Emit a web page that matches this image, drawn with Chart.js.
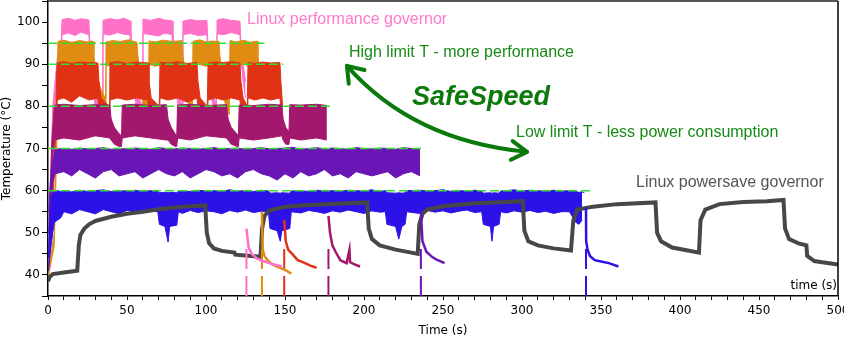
<!DOCTYPE html>
<html><head><meta charset="utf-8">
<script src="https://cdn.jsdelivr.net/npm/chart.js@4/dist/chart.umd.min.js"></script>
<style>html,body{margin:0;padding:0;background:#fff}</style>
</head><body>
<canvas id="c" width="844" height="339" style="width:844px;height:339px;display:block"></canvas>
<script>
// ---------- DATA (time in s, temperature in °C) ----------
const xTickLabels = [0, 50, 100, 150, 200, 250, 300, 350, 400, 450, 500];
const yTickLabels = [40, 50, 60, 70, 80, 90, 100];

// Linux performance governor (pink)
const pinkT  = [0.5,3,6,8.4, 8.9,13,17,21,25.9, 26.5,28,30,34.3, 34.8,39,44,48,51.9, 52.5,54,56,59.6, 60.1,65,70,74,78.5, 79.1,80.5,82.5,84.9, 85.4,90,95,100.6, 101.2,102.6,104.5,106.5, 107,111,116,121.5, 122.1,123.5,125];
const pinkHi = [50,80,92,96, 100.6,100.9,100.4,100.8,100.5, 95,88,84,80, 100.4,100.8,100.5,100.9,100.3, 95,88,84,80, 100.7,100.4,100.9,100.5,100.3, 95,88,84,80, 100.2,100.6,100.3,100.4, 95,88,84,80, 100.5,100.8,100.4,100.2, 95,90,86];
const pinkLo = [45,75,88,93, 97,97.4,96.8,97.6,97, 91,84,80,77, 97.2,96.9,97.5,97.1,97, 91,84,80,77, 97.3,97,96.7,97.4,97, 91,84,80,77, 97,97.3,96.8,97, 91,84,80,77, 97.2,97,97.5,97, 91,86,82];

// SafeSpeed limit 95 (orange)
const orangeT  = [0.5,2.5,4,5.5, 6.3,10,15,20,25,28.5, 29.1,30.5,33.5,36.2, 36.7,41,46,51,56.3, 56.9,58.3,61,63.4, 63.9,68,73,79,84.8, 85.4,86.8,89.5,91.3, 91.8,96,100,104,108.2, 108.8,110.2,112.8,114.7, 115.2,119,124,128,132.3, 132.9,134];
const orangeHi = [42,46,50,80, 95.4,95.7,95.2,95.6,95.3,95.5, 92,88,84,82, 95.3,95.6,95.4,95.8,95.2, 92,88,84,82, 95.5,95.3,95.7,95.4,95.6, 92,88,84,82, 95.4,95.8,95.3,95.5,95.4, 92,88,84,82, 95.6,95.3,95.7,95.2,95.5, 92,88];
const orangeLo = [40,44,47,70, 89.5,90,89.5,90,89.5,90, 87,83,80,78, 89.5,90,89.5,90,89.5, 87,83,80,78, 90,89.5,90,89.5,90, 87,83,80,78, 89.5,90,89.5,90,89.5, 87,83,80,78, 90,89.5,90,89.5,90, 87,84];

// SafeSpeed limit 90 (red)
const redT  = [0.5,3,5, 5.7,10,15,20,26,31.6, 32.2,33.6,38.7, 39.2,44,50,56,63.3, 63.9,65.3,70.4, 70.9,76,82,88,94.3, 94.9,96.3,100.8, 101.3,106,111,116,121.5, 122.1,123.5,126.1, 126.6,131,136,141,146.8, 147.4,148.5];
const redHi = [45,60,80, 90.3,90.6,90.2,90.5,90.4,90.3, 86,82,80, 90.4,90.6,90.2,90.5,90.3, 86,82,80, 90.5,90.3,90.6,90.2,90.4, 86,82,80, 90.3,90.5,90.4,90.6,90.3, 86,82,80, 90.4,90.2,90.5,90.3,90.4, 86,80];
const redLo = [42,55,75, 81.5,82,81,82.5,81.5,82, 79,77,76, 81.5,82,81.5,82,81.5, 79,77,76, 82,81.5,82,81,82, 79,77,76, 81.5,82,81.5,82,81.5, 79,77,76, 82,81.5,82,81.5,82, 79,75];

// SafeSpeed limit 80 (magenta)
const magT  = [0.5,2.5,4, 10,20,30,39, 40,42,45,46.5, 47,55,65,75, 76,78,80.5,81.5, 82,90,100,113, 114,116,119.5,120.5, 121,130,140,148, 148.8,150.5,152.5, 153,160,170,176.5];
const magHi = [50,72,80.3, 80.5,80.2,80.4,80.3, 77,75,73.5,73, 80.3,80.5,80.2,80.4, 77,75,73.5,73, 80.3,80.5,80.2,80.4, 77,75,73.5,73, 80.3,80.2,80.5,80.3, 77,75,74, 80.4,80.3,80.5,80.2];
const magLo = [45,66,72, 72.5,72,73,72.5, 72,71,70.5,70.5, 72.5,73,72.5,72, 72,71,70.5,70.5, 72.5,72,73,72.5, 72,71,70.5,70.5, 72.5,72,72.5,73, 72,71,71, 72.5,72,72.5,72];

// SafeSpeed limit 70 (purple)
const purpleT  = [0.5,1.5,3,4.5, 10,15,20,25,30,35,40,45,50,55,60,65,70,75,80,85,90,95,100,105,110,115,120,125,130,135,140,145,150,155,160,165,170,175,180,185,190,195,200,205,210,215,220,225,230,235.5];
const purpleHi = [55,62,67,69.8, 70,69.8,70.1,69.9,70,70.2,69.8,70,69.9,70.1,70,69.8,70.2,70,69.9,70.1,70,69.8,70,70.2,69.9,70,70.1,69.8,70,70.2,69.9,70,70.1,70.3,69.8,70,70.2,69.9,70.1,70,69.8,70.2,70,69.9,70.1,70,69.8,70.2,70,69.9];
const purpleLo = [50,56,62,64, 64.5,63.5,65,64,63,64.5,65,63.5,64,64.5,63,64,65,64,63.5,64.5,63,64,65,64.5,63.5,64,63,64.5,65,64,63.5,62.5,64,63,64.5,63.5,64,65,63.5,64,63,64.5,64,63.5,64,64.5,63,64,64.5,63.5];

// SafeSpeed limit 60 (blue)
const blueT  = [0.3,1,2,3,4,6,8,10,15,20,25,30,35,40,45,50,55,60,65,69.5,70.5,74,76,77,81.5,82.5,85,90,95,100,105,110,115,120,125,130,135,139.5,140.5,145,147,148,153,154,160,165,170,175,180,185,190,195,200,205,210,213.5,214.5,220,222,224,226,227,235,240,245,250,255,260,265,270,274.5,275.5,280,281,282,285.5,286.5,290,295,300,305,310,315,320,325,330,334,336,338,339.5];
const blueHi = [44,52,58,59.5,59.8,60,59.8,60,59.7,60.1,59.8,60,60.2,59.8,60,59.9,60.1,59.8,60,59.9,59.5,59.6,59.5,59.6,59.5,59.9,60,59.8,60.1,59.9,60,59.8,60.2,59.9,60,59.8,60.1,59.9,59.4,59.5,59.4,59.5,59.4,59.9,60,59.8,60.1,59.9,60,59.8,60.1,60,59.9,60.2,59.8,60,59.5,59.4,59.5,59.4,59.5,60,60.1,59.9,60,60.2,59.8,60,59.9,60.1,59.9,59.4,59.5,59.4,59.5,59.4,59.9,60,60.2,59.9,60.1,60,59.8,60.1,59.9,60,59.8,59.6,59.7,59.5];
const blueLo = [41,44,47,50,52.5,53,53.5,55,54.5,55.5,55,54.5,55.5,55,54.5,55.3,55,54.7,55.2,55,52,51.5,47.8,51.5,51.8,55,54.6,55.3,54.8,55.2,55,54.5,55.3,54.9,55.4,54.8,55.1,55,51,50.5,48,50.5,51,55,54.7,55.3,55,54.6,55.2,54.9,55.4,55,54.6,55.2,54.9,55,52,51.5,48.5,51.5,52,55,54.6,55.3,54.9,55.2,54.7,55.1,55.4,54.8,55,52,51.5,48,51.5,52,55,54.7,55.2,54.9,55.3,54.8,55.1,54.6,55,55,52.5,52,53];

// Linux powersave governor (grey)
const greyT = [0,1,3,10,18.5,19.5,20.5,23,26,30,40,50,60,70,80,90,99.5,100.5,102,105,110,118,118.5,125,134.5,135.5,137,140,150,160,175,190,202,203,205,210,220,230,234,235,237,240,250,270,290,300.5,301.5,304,310,320,331,332.5,335,345,360,384.5,385.5,388,395,405,412,413,416,425,440,455,465.5,466.5,469,475,480,480.5,485,490,500];
const greyV = [38.5,39.5,40.2,40.6,41,47,49.5,51,52,52.8,53.8,54.5,55,55.6,56,56.3,56.5,50,47.5,46.3,45.7,45.3,44.8,44.6,44.3,51,54,55.3,56.2,56.5,56.8,57,57.2,51,48.5,47,46,45.3,45,52,54.5,55.5,56.3,57,57.3,57.5,50.5,48,47,46.3,45.8,53,55.5,56.2,56.8,57.2,50,48,46.5,45.8,45.3,53,55.5,56.8,57.3,57.5,57.8,51,48.5,47.5,47,44.5,43.3,43,42.5];

// Cool-down tails after each SafeSpeed / performance run ends
const pinkTailT   = [125.6,127,129,132,136,142,148];
const pinkTailV   = [51,46.5,45,44,43.3,42.6,42];
const orangeTailT = [135.4,135.9,137,139,142,146,150,154];
const orangeTailV = [55,46,44.5,43.5,42.5,41.8,41.2,40.3];
const redTailT    = [149.5,150.5,152,155,158,162,166,170];
const redTailV    = [53,48,46,44.8,43.5,42.9,42.2,41.7];
const magTailT    = [177.5,178.5,180,182,185,189,190.8,191.2,194,197.5];
const magTailV    = [54,50,47,45.5,43.5,42.8,46,43,42.5,42];
const purpleTailT = [236,237,239.5,243,246,251];
const purpleTailV = [55,48,45.5,44.3,43.6,42.8];
const blueTailT   = [340.5,340.6,341.5,343,346,350,355,361];
const blueTailV   = [56,48,46,44.5,43.5,43.2,42.8,42];

// end-of-run markers (time) and limit lines
const markerTimes  = [125.6, 135.4, 149.5, 177.5, 236, 340.5];
const limitLevels  = [95, 90, 80, 70, 60];
const limitEnds    = [137, 149, 180, 238, 343];

// ---------- COLOURS ----------
const C = {pink:'#ff70c8', orange:'#e08c12', red:'#e03214', mag:'#a2186e', purple:'#6a16b6', blue:'#2c12e6', grey:'#474747', green:'#33dd33'};

function pts(T, V){ return T.map((t,i)=>({x:t, y:V[i]})); }
const base = {pointRadius:0, pointHoverRadius:0, tension:0, spanGaps:true};
function band(name, T, hi, lo, col, order){
  return [
    Object.assign({}, base, {label:name+' max', data:pts(T,hi), borderColor:col, backgroundColor:col, borderWidth:1, fill:false, order}),
    Object.assign({}, base, {label:name+' min', data:pts(T,lo), borderColor:col, backgroundColor:col, borderWidth:1, fill:'-1', order})
  ];
}
function line(name, T, V, col, w, order, dash){
  return Object.assign({}, base, {label:name, data:pts(T,V), borderColor:col, backgroundColor:col, borderWidth:w, fill:false, order, borderDash:dash||[]});
}

const datasets = [];
datasets.push(...band('performance', pinkT, pinkHi, pinkLo, C.pink, 9));
datasets.push(...band('95', orangeT, orangeHi, orangeLo, C.orange, 8));
datasets.push(...band('90', redT, redHi, redLo, C.red, 7));
datasets.push(...band('80', magT, magHi, magLo, C.mag, 6));
datasets.push(...band('70', purpleT, purpleHi, purpleLo, C.purple, 5));
datasets.push(...band('60', blueT, blueHi, blueLo, C.blue, 4));
datasets.push(line('powersave', greyT, greyV, C.grey, 4, 3));
const tails = [[pinkTailT,pinkTailV,C.pink],[orangeTailT,orangeTailV,C.orange],[redTailT,redTailV,C.red],[magTailT,magTailV,C.mag],[purpleTailT,purpleTailV,C.purple],[blueTailT,blueTailV,C.blue]];
tails.forEach((tl,i)=>{
  datasets.push(line('tail'+i, tl[0], tl[1], tl[2], 2.5, 2));
  datasets.push(line('marker'+i, [markerTimes[i], markerTimes[i]], [35, 46.5], tl[2], 2, 2, [20,7]));
});
limitLevels.forEach((lv,i)=>{
  datasets.push(line('limit'+lv, [0, limitEnds[i]], [lv, lv], C.green, 1.5, 0, [9,4]));
});

// ---------- ANNOTATIONS ----------
const notes = [
  {text:'Linux performance governor', x:126, y:100.7, color:'#ff77cc', font:'16px "Liberation Sans", Arial, sans-serif'},
  {text:'High limit T - more performance', x:190.5, y:92.7, color:'#178a17', font:'16px "Liberation Sans", Arial, sans-serif'},
  {text:'SafeSpeed', x:230.4, y:82.0, color:'#0b7a0b', font:'italic bold 27px "Liberation Sans", Arial, sans-serif'},
  {text:'Low limit T - less power consumption', x:296.2, y:73.7, color:'#178a17', font:'16px "Liberation Sans", Arial, sans-serif'},
  {text:'Linux powersave governor', x:372.2, y:62.0, color:'#555555', font:'16px "Liberation Sans", Arial, sans-serif'}
];
const arrowPts = {p0:[189.2, 89.6], p1:[231, 71.8], p2:[303.2, 69.2]};

const annot = {
  id:'annot',
  afterDatasetsDraw(chart){
    const {ctx, chartArea:a, scales:{x, y}} = chart;
    ctx.save();
    ctx.strokeStyle = '#555'; ctx.lineWidth = 2;
    ctx.beginPath(); ctx.moveTo(a.left, a.top); ctx.lineTo(a.right, a.top); ctx.stroke();
    ctx.strokeStyle = '#000'; ctx.lineWidth = 1.5;
    ctx.beginPath(); ctx.moveTo(a.right, a.top); ctx.lineTo(a.right, a.bottom); ctx.stroke();
    ctx.textBaseline = 'middle'; ctx.textAlign = 'left';
    notes.forEach(n=>{ ctx.font = n.font; ctx.fillStyle = n.color; ctx.fillText(n.text, x.getPixelForValue(n.x), y.getPixelForValue(n.y)); });
    ctx.font = '12px "DejaVu Sans", sans-serif'; ctx.fillStyle = '#000'; ctx.textAlign = 'right';
    ctx.fillText('time (s)', x.getPixelForValue(499.4), y.getPixelForValue(37.4));
    const P = k => [x.getPixelForValue(arrowPts[k][0]), y.getPixelForValue(arrowPts[k][1])];
    const p0 = P('p0'), p1 = P('p1'), p2 = P('p2');
    ctx.strokeStyle = '#0b7a0b'; ctx.lineWidth = 4; ctx.lineCap = 'round'; ctx.lineJoin = 'round';
    ctx.beginPath(); ctx.moveTo(p0[0], p0[1]); ctx.quadraticCurveTo(p1[0], p1[1], p2[0], p2[1]); ctx.stroke();
    function head(tip, from, spread, len){
      const ang = Math.atan2(from[1]-tip[1], from[0]-tip[0]);
      ctx.beginPath();
      ctx.moveTo(tip[0]+len*Math.cos(ang-spread), tip[1]+len*Math.sin(ang-spread));
      ctx.lineTo(tip[0], tip[1]);
      ctx.lineTo(tip[0]+len*Math.cos(ang+spread), tip[1]+len*Math.sin(ang+spread));
      ctx.stroke();
    }
    head(p0, p1, 0.62, 18);
    head(p2, p1, 0.55, 18);
    ctx.restore();
  }
};

new Chart(document.getElementById('c'), {
  type:'line',
  data:{datasets},
  options:{
    responsive:false, animation:false, devicePixelRatio:1,
    layout:{padding:{top:1, right:6, left:0, bottom:0}},
    plugins:{legend:{display:false}, tooltip:{enabled:false}},
    scales:{
      x:{type:'linear', min:0, max:500,
         ticks:{stepSize:10, autoSkip:false, maxRotation:0, padding:4, color:'#000', font:{family:'"DejaVu Sans"', size:12},
                callback:v=> xTickLabels.includes(v) ? String(v) : ''},
         grid:{drawOnChartArea:false, tickLength:4, color:'#000', tickWidth:1},
         border:{color:'#000', width:1.5},
         title:{display:true, text:'Time (s)', color:'#000', font:{family:'"DejaVu Sans"', size:12}, padding:{top:0,bottom:1}},
         afterFit(s){ s.height = 43; s.paddingLeft = 0; s.paddingRight = 0; }},
      y:{type:'linear', min:35, max:105,
         ticks:{stepSize:5, autoSkip:false, padding:2, color:'#000', font:{family:'"DejaVu Sans"', size:12},
                callback:v=> yTickLabels.includes(v) ? String(v) : ''},
         grid:{drawOnChartArea:false, tickLength:6, color:'#000', tickWidth:1},
         border:{color:'#000', width:1.5},
         title:{display:true, text:'Temperature (°C)', color:'#000', font:{family:'"DejaVu Sans"', size:12}, padding:{top:0,bottom:0}},
         afterFit(s){ s.width = 48; s.paddingTop = 0; s.paddingBottom = 0; }}
    }
  },
  plugins:[annot]
});
</script>
</body></html>
